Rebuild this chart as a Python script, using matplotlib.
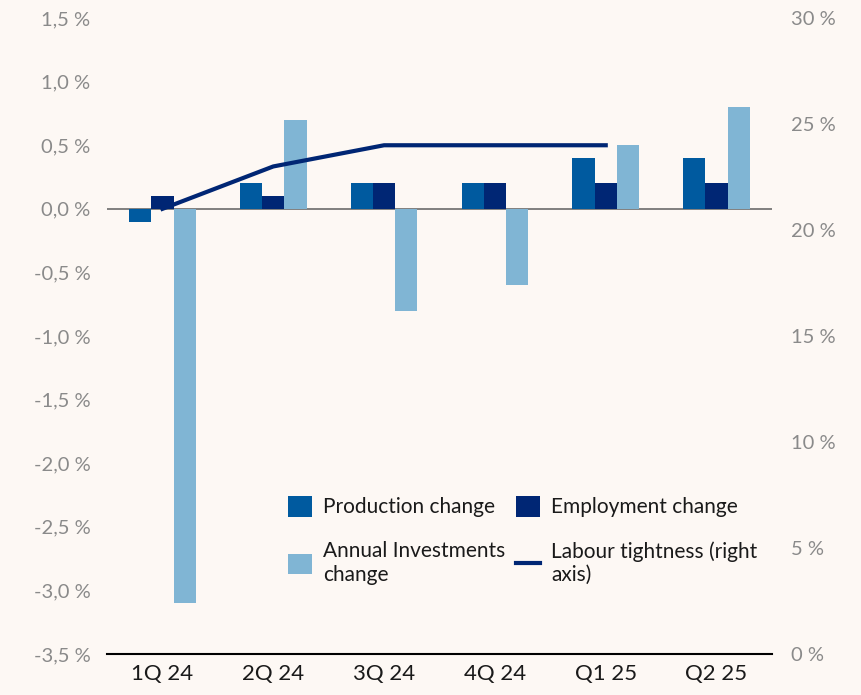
import matplotlib.pyplot as plt
import numpy as np

quarters = ['1Q 24', '2Q 24', '3Q 24', '4Q 24', 'Q1 25', 'Q2 25']
production = [-0.1, 0.2, 0.2, 0.2, 0.4, 0.4]
employment = [0.1, 0.1, 0.2, 0.2, 0.2, 0.2]
investments = [-3.1, 0.7, -0.8, -0.6, 0.5, 0.8]
tightness = [21, 23, 24, 24, 24]  # right axis, %, no value for Q2 25

bg = '#fdf8f4'
c_prod = '#005a9f'
c_emp = '#002674'
c_inv = '#80b5d4'
grey = '#8a8a8a'

plt.rcParams['font.family'] = ['Lato', 'DejaVu Sans']

fig = plt.figure(figsize=(8.61, 6.95), dpi=100, facecolor=bg)
ax = fig.add_axes([0.1243, 0.059, 0.7723, 0.915])
ax.set_facecolor(bg)

x = np.arange(len(quarters))
w = 0.2
b1 = ax.bar(x - w, production, w, color=c_prod, label='Production change', zorder=2)
b3 = ax.bar(x + w, investments, w, color=c_inv, label='Annual Investments\nchange', zorder=2)
b2 = ax.bar(x, employment, w, color=c_emp, label='Employment change', zorder=2)
ax.axhline(0, color='#6b6b6b', lw=1.2, zorder=1)

ax.set_xlim(-0.5, 5.5)
ax.set_ylim(-3.5, 1.5)
yt = np.arange(-3.5, 1.51, 0.5)
ax.set_yticks(yt)
ax.set_yticklabels([f'{v:.1f} %'.replace('.', ',') for v in yt])
ax.set_xticks(x)
ax.set_xticklabels(quarters)

for s in ['top', 'right', 'left']:
    ax.spines[s].set_visible(False)
ax.spines['bottom'].set_color('black')
ax.spines['bottom'].set_linewidth(1.5)
ax.tick_params(axis='y', length=0, labelsize=14.5, labelcolor=grey, pad=12)
ax.tick_params(axis='x', length=0, labelsize=16, labelcolor='#1a1a1a', pad=7)

ax2 = ax.twinx()
ln, = ax2.plot(x[:len(tightness)], tightness, color=c_emp, lw=3, label='Labour tightness (right\naxis)', zorder=3)
ax2.set_ylim(0, 30)
ax2.set_yticks(np.arange(0, 31, 5))
ax2.set_yticklabels([f'{v} %' for v in range(0, 31, 5)])
for s in ax2.spines.values():
    s.set_visible(False)
ax2.tick_params(axis='y', length=0, labelsize=14.5, labelcolor=grey, pad=14)

handles = [b1, b3, b2, ln]
labels = [h.get_label() for h in handles]
leg = fig.legend(handles, labels, ncol=2, loc='upper left', bbox_to_anchor=(288 / 861, 1 - 496 / 695),
                 frameon=False, fontsize=15, handlelength=1.15, handleheight=1.15, borderpad=0,
                 borderaxespad=0, columnspacing=0.5, labelspacing=1.15, handletextpad=0.55)
for t in leg.get_texts():
    t.set_color('#1a1a1a')

fig.savefig('out.png', dpi=100, facecolor=bg)
